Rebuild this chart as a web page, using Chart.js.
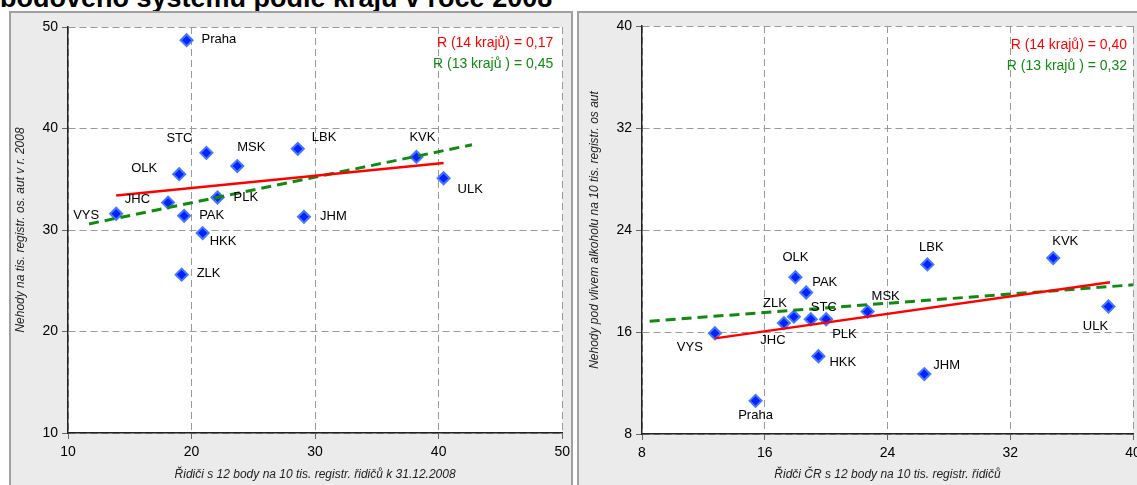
<!DOCTYPE html>
<html>
<head>
<meta charset="utf-8">
<script src="https://cdn.jsdelivr.net/npm/chart.js@4.4.0/dist/chart.umd.min.js"></script>
<style>
html, body { margin: 0; padding: 0; background: #fff; overflow: hidden; width: 1137px; height: 485px; position: relative; font-family: "Liberation Sans", Arial, sans-serif; }
#title { position: absolute; left: 0; top: -15px; font-weight: bold; font-size: 27px; line-height: 27px; white-space: nowrap; color: #000; }
.panel { position: absolute; top: 11px; height: 480px; background: #ebebeb; border: 2px solid #a0a0a0; box-sizing: border-box; }
#p1 { left: 9px; width: 564px; }
#p2 { left: 577px; width: 580px; }
canvas { position: absolute; }
</style>
</head>
<body>
<div id="title">bodového systému podle krajů v roce 2008</div>
<div class="panel" id="p1"></div>
<div class="panel" id="p2"></div>
<canvas id="chart1" width="565" height="473" style="left:10px;top:12px"></canvas>
<canvas id="chart2" width="580" height="473" style="left:578px;top:12px"></canvas>
<script>
// kraje
const regions = ["Praha", "STC", "JHC", "PLK", "KVK", "ULK", "LBK", "HKK", "PAK", "VYS", "JHM", "OLK", "ZLK", "MSK"];

// levý graf - řidiči s 12 body vs. nehody na tis. aut
const drivers1 = [19.6, 21.2, 18.1, 22.1, 38.2, 40.4, 28.6, 20.9, 19.4, 13.9, 29.1, 19.0, 19.2, 23.7];
const accidents1 = [48.7, 37.6, 32.7, 33.2, 37.2, 35.1, 38.0, 29.7, 31.4, 31.6, 31.3, 35.5, 25.6, 36.3];
const trend14X1 = [13.9, 40.4];
const trend14Y1 = [33.4, 36.6];
const trend13X1 = [11.7, 42.7];
const trend13Y1 = [30.6, 38.4];
const ticksX1 = [10, 20, 30, 40, 50];
const ticksY1 = [10, 20, 30, 40, 50];
const rTexts1 = ["R (14 krajů) = 0,17", "R (13 krajů ) = 0,45"];

// pravý graf - nehody pod vlivem alkoholu
const drivers2 = [15.4, 19.0, 17.25, 20.0, 34.8, 38.4, 26.6, 19.5, 18.7, 12.75, 26.4, 18.0, 17.9, 22.7];
const accidents2 = [10.6, 17.0, 16.7, 17.0, 21.8, 18.0, 21.3, 14.1, 19.1, 15.9, 12.7, 20.3, 17.2, 17.6];
const trend14X2 = [12.75, 38.5];
const trend14Y2 = [15.5, 19.9];
const trend13X2 = [8.5, 40];
const trend13Y2 = [16.85, 19.7];
const ticksX2 = [8, 16, 24, 32, 40];
const ticksY2 = [8, 16, 24, 32, 40];
const rTexts2 = ["R (14 krajů) = 0,40", "R (13 krajů ) = 0,32"];

// umístění popisků [dx, dy, zarovnání]
const labelPos1 = [[15,-1,"left"],[-14,-14,"right"],[-18,-3,"right"],[16,0,"left"],[6,-19,"center"],[14,11,"left"],[14,-11,"left"],[7,8,"left"],[15,0,"left"],[-17,2,"right"],[16,0,"left"],[-22,-6,"right"],[15,-1,"left"],[0,-19,"left"]];
const labelPos2 = [[0,15,"center"],[0,-12,"left"],[-11,17,"center"],[6,15,"left"],[12,-17,"center"],[-13,20,"center"],[4,-17,"center"],[11,6,"left"],[6,-10,"left"],[-12,14,"right"],[9,-9,"left"],[0,-20,"center"],[-7,-13,"right"],[4,-15,"left"]];

Chart.defaults.font.family = "'Liberation Sans', Arial, sans-serif";
Chart.defaults.color = "#000";

const plotBg = {
    id: "plotBg",
    beforeDraw(chart) {
        const a = chart.chartArea;
        chart.ctx.save();
        chart.ctx.fillStyle = "#fff";
        chart.ctx.fillRect(a.left, a.top, a.right - a.left, a.bottom - a.top);
        chart.ctx.restore();
    }
};

const pointLabels = {
    id: "pointLabels",
    afterDatasetsDraw(chart, args, opts) {
        const ctx = chart.ctx;
        const meta = chart.getDatasetMeta(2);
        ctx.save();
        ctx.font = "13px 'Liberation Sans', Arial";
        ctx.fillStyle = "#000";
        ctx.textBaseline = "middle";
        meta.data.forEach((pt, i) => {
            const p = opts.pos[i];
            ctx.textAlign = p[2];
            ctx.fillText(opts.names[i], pt.x + p[0], pt.y + p[1]);
        });
        // korelační koeficienty
        const a = chart.chartArea;
        ctx.font = "14px 'Liberation Sans', Arial";
        ctx.textAlign = "right";
        ctx.fillStyle = "#ff0000";
        ctx.fillText(opts.rTexts[0], a.right - opts.rRight, a.top + opts.rTop);
        ctx.fillStyle = "#118a11";
        ctx.fillText(opts.rTexts[1], a.right - opts.rRight, a.top + opts.rTop + 21);
        ctx.restore();
    }
};

function makeChart(id, d) {
    const toPts = (xs, ys) => xs.map((x, i) => ({ x: x, y: ys[i] }));
    return new Chart(document.getElementById(id), {
        type: "scatter",
        data: {
            datasets: [
                {
                    type: "line",
                    data: toPts(d.t14x, d.t14y),
                    borderColor: "#ff0000",
                    borderWidth: 2.5,
                    pointRadius: 0,
                    fill: false
                },
                {
                    type: "line",
                    data: toPts(d.t13x, d.t13y),
                    borderColor: "#108a10",
                    borderWidth: 3,
                    borderDash: [10, 6],
                    pointRadius: 0,
                    fill: false
                },
                {
                    data: toPts(d.xs, d.ys),
                    pointStyle: "rectRot",
                    pointRadius: 6,
                    backgroundColor: "#0022ff",
                    borderColor: "#4577ff",
                    borderWidth: 2
                }
            ]
        },
        options: {
            responsive: false,
            animation: false,
            layout: { padding: { left: 0, right: d.padRight, top: d.padTop, bottom: 0 } },
            plugins: {
                legend: { display: false },
                tooltip: { enabled: false },
                pointLabels: { names: regions, pos: d.pos, rTexts: d.rTexts, rRight: d.rRight, rTop: d.rTop }
            },
            scales: {
                x: {
                    type: "linear",
                    min: d.ticksX[0],
                    max: d.ticksX[d.ticksX.length - 1],
                    afterBuildTicks: s => { s.ticks = d.ticksX.map(v => ({ value: v })); },
                    afterFit: s => { s.height = d.xH; },
                    ticks: { font: { size: 14 }, padding: 5, color: "#000" },
                    grid: { color: "#9a9a9a", tickColor: "#666", tickLength: 6, tickBorderDash: [] },
                    border: { color: "#222", width: 1.5, dash: [7, 4] },
                    title: { display: true, text: d.xTitle, font: { size: 12, style: "italic" }, color: "#222", padding: { top: 4, bottom: 3 } }
                },
                y: {
                    type: "linear",
                    min: d.ticksY[0],
                    max: d.ticksY[d.ticksY.length - 1],
                    afterBuildTicks: s => { s.ticks = d.ticksY.map(v => ({ value: v })); },
                    afterFit: s => { s.width = d.yW; },
                    ticks: { font: { size: 14 }, padding: 4, color: "#000" },
                    grid: { color: "#9a9a9a", tickColor: "#666", tickLength: 6, tickBorderDash: [] },
                    border: { color: "#222", width: 1.5, dash: [7, 4] },
                    title: { display: true, text: d.yTitle, font: { size: 12, style: "italic" }, color: "#222", padding: { top: d.yTitlePad, bottom: 4 } }
                }
            }
        },
        plugins: [plotBg, pointLabels]
    });
}

makeChart("chart1", {
    xs: drivers1, ys: accidents1,
    t14x: trend14X1, t14y: trend14Y1, t13x: trend13X1, t13y: trend13Y1,
    ticksX: ticksX1, ticksY: ticksY1, rTexts: rTexts1, pos: labelPos1,
    xTitle: "Řidiči s 12 body na 10 tis. registr. řidičů k 31.12.2008",
    yTitle: "Nehody na tis. registr. os. aut v r. 2008",
    padRight: 0, padTop: 15, xH: 52, yW: 58, yTitlePad: 3, rRight: 9, rTop: 16
});

makeChart("chart2", {
    xs: drivers2, ys: accidents2,
    t14x: trend14X2, t14y: trend14Y2, t13x: trend13X2, t13y: trend13Y2,
    ticksX: ticksX2, ticksY: ticksY2, rTexts: rTexts2, pos: labelPos2,
    xTitle: "Řidči ČR s 12 body na 10 tis. registr. řidičů",
    yTitle: "Nehody pod vlivem alkoholu na 10 tis. registr. os aut",
    padRight: 25, padTop: 14, xH: 51, yW: 64, yTitlePad: 9, rRight: 6, rTop: 19
});
</script>
</body>
</html>
